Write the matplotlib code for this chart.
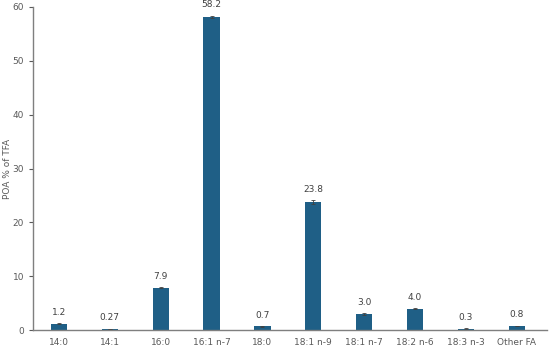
import numpy as np
import matplotlib.pyplot as plt

acidos = ["14:0", "14:1", "16:0", "16:1 n-7", "18:0", "18:1 n-9", "18:1 n-7", "18:2 n-6", "18:3 n-3", "Other FA"]
valores = [1.2, 0.27, 7.9, 58.2, 0.7, 23.8, 3.0, 4.0, 0.3, 0.8]
erros = [0.05, 0.02, 0.1, 0.2, 0.05, 0.3, 0.1, 0.1, 0.02, 0.05]
rotulos = ["1.2", "0.27", "7.9", "58.2", "0.7", "23.8", "3.0", "4.0", "0.3", "0.8"]

cor = "#1f5f86"
cinza = "#595959"

fig = plt.figure(figsize=(5.5, 3.49), dpi=100)
ax = fig.add_axes([0.06, 0.054, 0.935, 0.926])

x = np.arange(len(acidos))
ax.bar(x, valores, width=0.32, color=cor, yerr=erros,
       error_kw=dict(ecolor="#404040", elinewidth=0.6, capsize=1.5, capthick=0.6))

for xi, v, r, e in zip(x, valores, rotulos, erros):
    ax.text(xi, v + e + 1.2, r, ha="center", va="bottom", fontsize=6.5, color="#404040")

ax.set_xlim(-0.51, 9.6)
ax.set_ylim(0, 60)
ax.set_yticks([0, 10, 20, 30, 40, 50, 60])
ax.set_xticks(x)
ax.set_xticklabels(acidos)
ax.tick_params(axis="both", labelsize=6.5, colors=cinza, length=3, width=0.8)
ax.tick_params(axis="x", length=0, pad=6)
ax.set_ylabel("POA % of TFA", fontsize=6.5, color=cinza)
ax.yaxis.set_label_coords(-0.04, 0.5)

for lado in ["top", "right"]:
    ax.spines[lado].set_visible(False)
for lado in ["left", "bottom"]:
    ax.spines[lado].set_color("#7f7f7f")
    ax.spines[lado].set_linewidth(1.0)

fig.savefig("out.png", dpi=100)
